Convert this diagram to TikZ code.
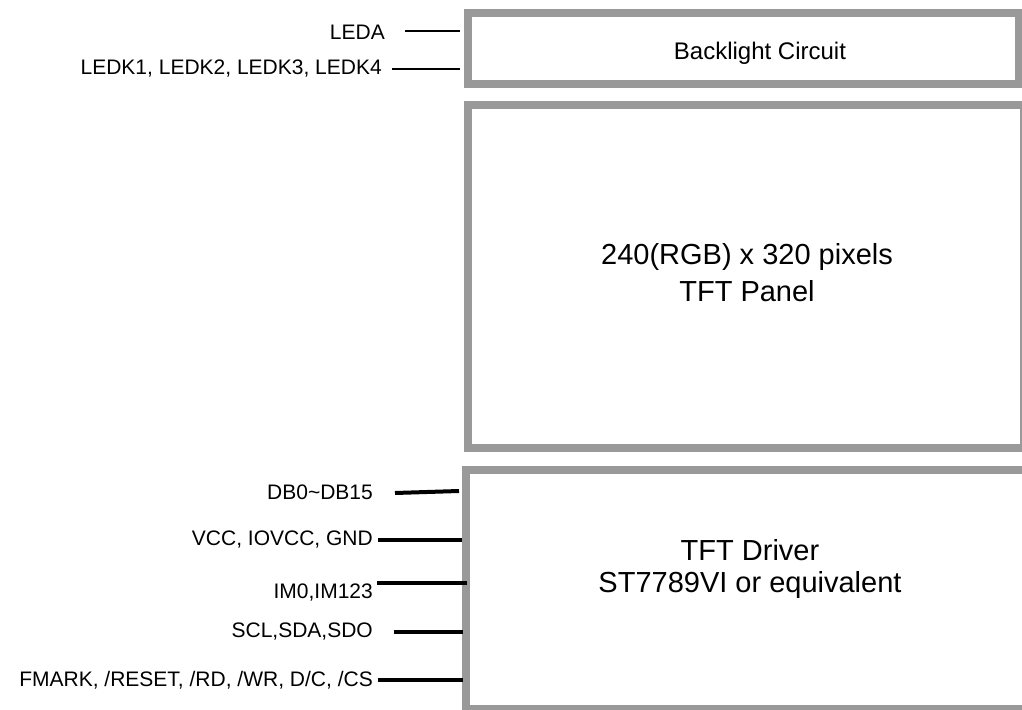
\documentclass[tikz,border=0pt]{standalone}
\usepackage{fontspec}
\setmainfont{Liberation Sans}
\usetikzlibrary{positioning}
\definecolor{marco}{RGB}{153,153,153}
\tikzset{
  bloque/.style={rectangle, draw=marco, line width=8pt, inner sep=0pt},
  etiqueta/.style={anchor=east, inner sep=0pt, font=\fontsize{21}{25}\selectfont},
  hilo/.style={line width=1.5pt},
  bus/.style={line width=4pt}
}
\begin{document}
\begin{tikzpicture}[x=1pt, y=-1pt,
        titulo/.style={align=center, inner sep=0pt}
    ]
        \useasboundingbox (0,0) rectangle (1022,709);

        % --- Bloques ---
        \node[bloque, minimum width=551pt, minimum height=71pt] (backlight) at (743.5,48.5) {};
        \node[bloque, minimum width=556pt, minimum height=343pt] (panel) at (746,276.5) {};
        \node[bloque, minimum width=568pt, minimum height=239pt] (driver) at (750,589.5) {};

        % --- Textos de los bloques ---
        \node[titulo, font=\fontsize{24}{29}\selectfont] (txtback) at (760,53.5) {Backlight Circuit};
        \node[titulo, font=\fontsize{29}{37}\selectfont] (txtpanel) at (747,273) {240(RGB) x 320 pixels\\TFT Panel};
        \node[titulo, font=\fontsize{29}{32}\selectfont] (txtdriver) at (750,569) {TFT Driver\\ST7789VI or equivalent};

        % --- Senales de la retroiluminacion ---
        \node[etiqueta] (leda) at (385,32) {LEDA};
        \node[etiqueta] (ledk) at (382,69) {LEDK1, LEDK2, LEDK3, LEDK4};

        % --- Senales del controlador ---
        \node[etiqueta] (db) at (373,492) {DB0\textasciitilde DB15};
        \node[etiqueta] (vcc) at (373,540) {VCC, IOVCC, GND};
        \node[etiqueta] (im) at (373,593) {IM0,IM123};
        \node[etiqueta] (serie) at (373,632) {SCL,SDA,SDO};
        \node[etiqueta] (ctrl) at (373,680) {FMARK, /RESET, /RD, /WR, D/C, /CS};

        % ================= LINEAS =================
        \draw[hilo] ([xshift=20pt,yshift=1pt]leda.east) -- ([xshift=-4pt,yshift=1pt]leda.east -| backlight.west);
        \draw[hilo] ([xshift=10pt]ledk.east) -- ([xshift=-4pt]ledk.east -| backlight.west);

        \draw[bus] ([xshift=22pt,yshift=-1pt]db.east) -- ([xshift=-3pt,yshift=1pt]db.east -| driver.west);
        \draw[bus] ([xshift=5pt]vcc.east) -- (vcc.east -| driver.west);
        \draw[bus] ([xshift=4pt,yshift=10pt]im.east) -- ([xshift=5pt,yshift=10pt]im.east -| driver.west);
        \draw[bus] ([xshift=21pt]serie.east) -- ([xshift=1pt]serie.east -| driver.west);
        \draw[bus] ([xshift=5pt]ctrl.east) -- ([xshift=1pt]ctrl.east -| driver.west);

    \end{tikzpicture}
\end{document}
